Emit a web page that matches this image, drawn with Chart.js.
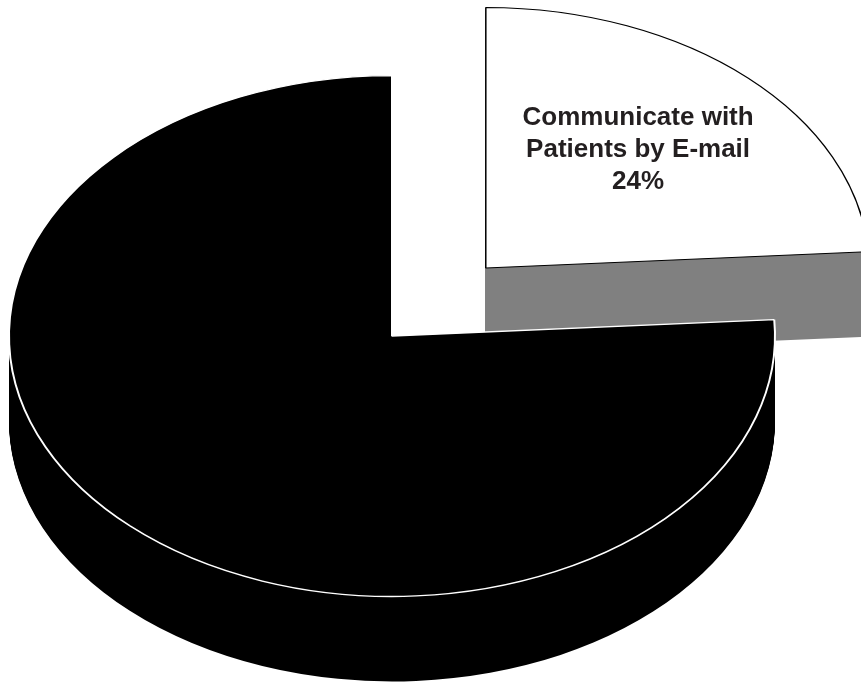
<!DOCTYPE html>
<html>
<head>
<meta charset="utf-8">
<script src="https://cdn.jsdelivr.net/npm/chart.js@4/dist/chart.umd.min.js"></script>
<style>
  body { margin: 0; background: #fff; }
  canvas { display: block; }
</style>
</head>
<body>
<canvas id="grafico" width="861" height="682"></canvas>
<script>
// datos del grafico
var etiquetas = ['Communicate with Patients by E-mail', 'Other'];
var valores = [24, 76];
var textoEtiqueta = ['Communicate with', 'Patients by E-mail', '24%'];

// colores: cara superior, borde, lateral
var colores = ['#ffffff', '#000000'];
var bordes = ['#000000', '#ffffff'];
var lateral = ['#808080', '#000000'];

var inclinacion = 0.68; // aplastado vertical para simular 3D
var profundidad = 85;   // grosor del pastel en px

function aplastar(ctx, cy, dy) {
    ctx.translate(0, cy + dy);
    ctx.scale(1, inclinacion);
    ctx.translate(0, -cy);
}

var pastel3d = {
    id: 'pastel3d',
    beforeDatasetDraw: function (chart, args) {
        var ctx = chart.ctx;
        var arcos = args.meta.data;
        var cy = arcos[0].y;
        // primero los laterales de cada porcion
        arcos.forEach(function (arco, i) {
            var opts = arco.options;
            arco.options = Object.assign({}, opts, { backgroundColor: lateral[i], borderWidth: 0 });
            for (var d = profundidad; d >= 1; d--) {
                ctx.save();
                aplastar(ctx, cy, d);
                arco.draw(ctx);
                ctx.restore();
            }
            arco.options = opts;
        });
        // la cara superior la dibuja Chart.js con esta transformacion
        ctx.save();
        aplastar(ctx, cy, 0);
    },
    afterDatasetDraw: function (chart) {
        chart.ctx.restore();
    },
    afterDatasetsDraw: function (chart) {
        var ctx = chart.ctx;
        var arco = chart.getDatasetMeta(0).data[0];
        var medio = (arco.startAngle + arco.endAngle) / 2;
        var desp = arco.options.offset / 4;
        var r = arco.outerRadius * 0.6 + desp;
        var x = arco.x + Math.cos(medio) * r;
        var y = arco.y + Math.sin(medio) * r * inclinacion;
        ctx.save();
        ctx.font = 'bold 26px "Liberation Sans", Arial, sans-serif';
        ctx.fillStyle = '#231f20';
        ctx.textAlign = 'center';
        ctx.textBaseline = 'middle';
        var alto = 32;
        textoEtiqueta.forEach(function (linea, i) {
            ctx.fillText(linea, x - 5, y - 4 + (i - 1) * alto);
        });
        ctx.restore();
    }
};

var ctx = document.getElementById('grafico').getContext('2d');
var miGrafico = new Chart(ctx, {
    type: 'pie',
    data: {
        labels: etiquetas,
        datasets: [{
            data: valores,
            backgroundColor: colores,
            borderColor: bordes,
            borderWidth: [1.5, 2],
            offset: [548, 0],
            clip: false
        }]
    },
    options: {
        responsive: false,
        animation: false,
        events: [],
        radius: 383,
        layout: { padding: { left: 0, right: 77, top: 0, bottom: 10 } },
        plugins: {
            legend: { display: false },
            tooltip: { enabled: false }
        }
    },
    plugins: [pastel3d]
});
</script>
</body>
</html>
